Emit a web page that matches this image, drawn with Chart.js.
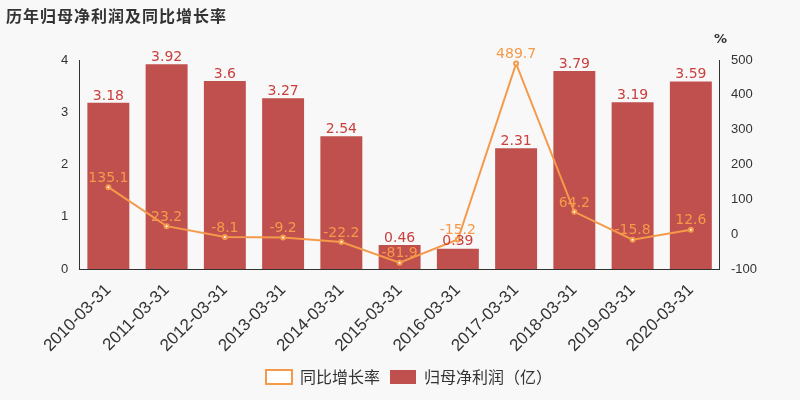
<!DOCTYPE html>
<html><head><meta charset="utf-8">
<script src="https://cdn.jsdelivr.net/npm/chart.js@4/dist/chart.umd.min.js"></script>
<style>body{margin:0;background:#f8f8f8}#w{position:relative;width:800px;height:400px}
#t{position:absolute;left:6px;top:3px;font:bold 16px "Noto Sans CJK SC";color:#333;letter-spacing:1px}
#p{position:absolute;left:714px;top:31px;font:bold 13px "DejaVu Sans";color:#333}</style></head>
<body><div id="w"><div id="t">历年归母净利润及同比增长率</div><div id="p">%</div><canvas id="c" width="800" height="400"></canvas></div>
<script>
const categories=['2010-03-31','2011-03-31','2012-03-31','2013-03-31','2014-03-31','2015-03-31','2016-03-31','2017-03-31','2018-03-31','2019-03-31','2020-03-31'];
const profit=[3.18,3.92,3.6,3.27,2.54,0.46,0.39,2.31,3.79,3.19,3.59];
const growth=[135.1,23.2,-8.1,-9.2,-22.2,-81.9,-15.2,489.7,64.2,-15.8,12.6];
const labels={id:'lbl',afterDatasetsDraw(ch){const c=ch.ctx;c.save();c.font='14px "DejaVu Sans"';c.textAlign='center';
ch.data.datasets.forEach((d,i)=>{const m=ch.getDatasetMeta(i);m.data.forEach((e,j)=>{c.fillStyle=i==0?'#c9403e':'#f49a4a';c.fillText(String(d.data[j]),e.x,e.y-(i==0?7:9));});});c.restore();}};
new Chart(document.getElementById('c'),{data:{labels:categories,datasets:[
{type:'bar',label:'归母净利润（亿）',data:profit,backgroundColor:'#c0504d',yAxisID:'y',categoryPercentage:0.72,barPercentage:1,order:2},
{type:'line',label:'同比增长率',data:growth,borderColor:'#f49a4a',backgroundColor:'#fff',pointBackgroundColor:'#fff',pointBorderColor:'#f49a4a',borderWidth:2,pointRadius:2,pointStyle:'circle',yAxisID:'y1',order:1}]},
options:{responsive:false,animation:false,layout:{padding:{top:60,left:58,right:40,bottom:5}},
plugins:{legend:{position:'bottom',sort:(a,b)=>a.datasetIndex-b.datasetIndex,labels:{font:{size:16,family:'Noto Sans CJK SC'},color:'#333',boxWidth:26,boxHeight:14}},tooltip:{enabled:false}},
scales:{x:{grid:{display:false},ticks:{font:{size:17},color:'#333',maxRotation:45,minRotation:45},border:{color:'#333'}},
y:{min:0,max:4,ticks:{stepSize:1,color:'#333',font:{size:13}},grid:{display:false},border:{color:'#333'}},
y1:{position:'right',min:-100,max:500,ticks:{stepSize:100,color:'#333',font:{size:13}},grid:{display:false},border:{color:'#333'}}}},
plugins:[labels]});
</script></body></html>
